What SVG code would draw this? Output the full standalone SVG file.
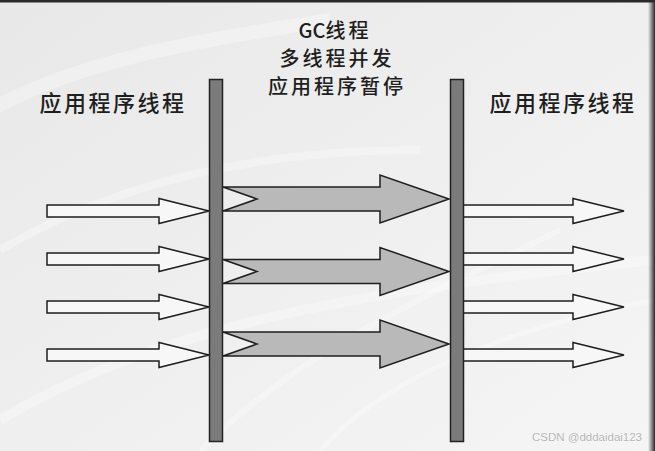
<svg xmlns="http://www.w3.org/2000/svg" width="655" height="451" viewBox="0 0 655 451">
<defs>
<linearGradient id="bg" x1="0" y1="0" x2="1" y2="1">
<stop offset="0" stop-color="#e8e8e8"/>
<stop offset="0.5" stop-color="#efefef"/>
<stop offset="1" stop-color="#f5f5f5"/>
</linearGradient>
<linearGradient id="edge" x1="0" y1="0" x2="1" y2="0">
<stop offset="0" stop-color="#2a2a2a" stop-opacity="0"/>
<stop offset="1" stop-color="#2a2a2a" stop-opacity="1"/>
</linearGradient>
<style>
.lbl{font-family:"Noto Sans CJK SC","Noto Sans",sans-serif;font-weight:500;fill:#1e1e1e;text-anchor:middle}
.side{font-size:22px;letter-spacing:2.5px}
.mid{font-size:20px;letter-spacing:3px}
.gc{letter-spacing:0px}
.bar{fill:#7b7b7b;stroke:#222;stroke-width:1.5}
.garrow{fill:#b9b9b9;stroke:#1e1e1e;stroke-width:1.5;stroke-linejoin:miter}
.warrow{fill:#f7f7f7;stroke:#1e1e1e;stroke-width:1.5;stroke-linejoin:miter}
.swoosh{fill:none;stroke:#ffffff;stroke-opacity:0.3}
.wm{font-family:"Liberation Sans",Arial,sans-serif;font-size:11px;fill:#b4b4b4;stroke:#ffffff;stroke-width:0.6;paint-order:stroke}
</style>
</defs>
<rect x="0" y="0" width="655" height="451" fill="url(#bg)"/>
<path class="swoosh" stroke-width="14" d="M-10 110 C 80 60, 200 40, 330 20"/>
<path class="swoosh" stroke-width="8" d="M0 250 C 120 180, 260 150, 420 150"/>
<path class="swoosh" stroke-width="10" d="M0 420 C 150 330, 350 290, 655 260"/>
<path class="swoosh" stroke-width="6" d="M200 451 C 300 350, 420 300, 560 230"/>
<path class="swoosh" stroke-width="5" d="M320 451 C 380 380, 500 330, 655 300"/>
<rect x="0" y="0" width="655" height="2.5" fill="#2a2a2a"/>
<rect x="648" y="0" width="7" height="451" fill="url(#edge)"/>

<g id="connectors">
<g id="left-arrows">
<polygon class="warrow" points="47,205 159,205 159,198.5 209,211 159,223.5 159,217 47,217"/>
<polygon class="warrow" points="47,253 159,253 159,246.5 209,259 159,271.5 159,265 47,265"/>
<polygon class="warrow" points="47,301 159,301 159,294.5 209,307 159,319.5 159,313 47,313"/>
<polygon class="warrow" points="47,349 159,349 159,342.5 209,355 159,367.5 159,361 47,361"/>
</g>
<g id="gc-arrows">
<polygon class="garrow" points="223,187 380,187 380,175 449,199 380,223 380,211 223,211 257,199"/>
<polygon class="garrow" points="223,259.5 380,259.5 380,247.5 449,271.5 380,295.5 380,283.5 223,283.5 257,271.5"/>
<polygon class="garrow" points="223,332 380,332 380,320 449,344 380,368 380,356 223,356 257,344"/>
</g>
<g id="right-arrows">
<polygon class="warrow" points="463,205 573,205 573,198.5 624,211 573,223.5 573,217 463,217"/>
<polygon class="warrow" points="463,253 573,253 573,246.5 624,259 573,271.5 573,265 463,265"/>
<polygon class="warrow" points="463,301 573,301 573,294.5 624,307 573,319.5 573,313 463,313"/>
<polygon class="warrow" points="463,349 573,349 573,342.5 624,355 573,367.5 573,361 463,361"/>
</g>
</g>

<g id="bar-left"><rect class="bar" x="209.5" y="79.5" width="13" height="362"/></g>
<g id="bar-right"><rect class="bar" x="450.5" y="79.5" width="13" height="362"/></g>

<g id="label-left"><text class="lbl side" x="113" y="110.5">应用程序线程</text></g>
<g id="label-gc">
<text class="lbl mid" x="335" y="38"><tspan class="gc">GC</tspan>线程</text>
<text class="lbl mid" x="337" y="65.5">多线程并发</text>
<text class="lbl mid" x="337" y="94">应用程序暂停</text>
</g>
<g id="label-right"><text class="lbl side" x="563" y="110.5">应用程序线程</text></g>
<text class="wm" x="532" y="441" textLength="110" lengthAdjust="spacingAndGlyphs">CSDN @dddaidai123</text>
</svg>
